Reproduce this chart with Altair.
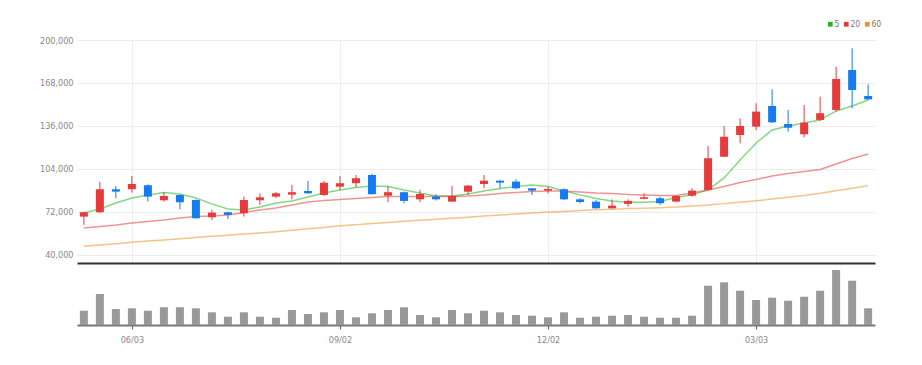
import altair as alt
import pandas as pd

# weekly candles (Mondays)
dates = pd.date_range("2024-05-13", periods=50, freq="7D").strftime("%Y-%m-%d").tolist()

opens = [68500, 71800, 88900, 88900, 91900, 80700, 84600, 80900, 68000, 71800,
         71000, 80700, 83400, 84900, 87600, 84600, 90800, 93400, 99500, 84100,
         86700, 81400, 83400, 79700, 87100, 92800, 95300, 94600, 89600, 87900,
         88900, 81400, 79700, 74700, 78000, 81700, 82200, 79700, 84100, 88400,
         113100, 129300, 135500, 150900, 137500, 129800, 140500, 147900, 177700, 158300]
highs = [72300, 94500, 91300, 98800, 92500, 86700, 85000, 81300, 73500, 72300,
         83400, 85900, 86900, 92100, 95100, 95100, 98800, 99500, 100300, 91300,
         87200, 88400, 85200, 91300, 92100, 99500, 95500, 96300, 89800, 90800,
         89600, 82200, 80900, 81400, 81400, 85900, 83400, 84600, 89600, 121100,
         136000, 141700, 152900, 163300, 147900, 151600, 157800, 180100, 193800, 167000]
lows = [62300, 71300, 82200, 86400, 79700, 79700, 74000, 67000, 66000, 66800,
        68500, 77200, 82400, 81400, 85400, 83900, 88400, 90400, 85000, 79200,
        78500, 79200, 80500, 79400, 84600, 89600, 89600, 89000, 84600, 85900,
        80900, 78500, 74500, 74500, 75900, 81500, 77200, 79100, 83400, 88000,
        113000, 123100, 133000, 138200, 131800, 127600, 139700, 146700, 149200, 155300]
closes = [71800, 88900, 87100, 92800, 83400, 83900, 79200, 67300, 71500, 69800,
          80900, 82900, 85900, 86700, 85900, 93800, 93400, 97100, 85200, 86700,
          80200, 85400, 81400, 83900, 91600, 95300, 93800, 89600, 87900, 89100,
          81400, 79400, 74700, 76700, 80200, 82900, 78500, 83900, 87900, 112000,
          128000, 136000, 146700, 138700, 134700, 138500, 145500, 171000, 162800, 155800]
volumes = [286000, 620000, 320000, 334000, 286000, 354000, 354000, 334000, 254000, 166000,
           254000, 166000, 146000, 300000, 220000, 254000, 300000, 154000, 234000, 300000,
           354000, 200000, 154000, 300000, 234000, 286000, 254000, 200000, 186000, 154000,
           254000, 146000, 166000, 186000, 200000, 166000, 146000, 146000, 186000, 786000,
           854000, 686000, 500000, 546000, 486000, 566000, 686000, 1100000, 886000, 334000]

ma5 = [71300, 74200, 78700, 82400, 84700, 86500, 85400, 82400, 78000, 74200,
       73500, 75700, 78700, 80200, 83200, 86100, 88400, 90200, 91300, 91000,
       88400, 86100, 83900, 83900, 85400, 87600, 89500, 91000, 92100, 91000,
       87600, 84700, 82000, 80200, 79200, 79200, 79800, 82800, 84700, 88400,
       97300, 110700, 123300, 133000, 136000, 138200, 140500, 147200, 150900, 155300]
ma20 = [60100, 61200, 62300, 63800, 64900, 66000, 67500, 68700, 69000, 69800,
        71600, 73500, 75000, 77200, 79400, 80600, 81300, 82000, 82800, 83500,
        83500, 83500, 83500, 83500, 83900, 84700, 85800, 86500, 87300, 87600,
        87600, 86900, 86100, 85800, 85000, 84700, 84300, 84300, 86100, 88400,
        91000, 94000, 96200, 98800, 100700, 102100, 103600, 107700, 111800, 115200]
ma60 = [46500, 47400, 48400, 49400, 50300, 51200, 52100, 53000, 53900, 54700,
        55600, 56400, 57300, 58400, 59500, 60500, 61700, 62500, 63400, 64200,
        65000, 65800, 66600, 67400, 68100, 68900, 69700, 70400, 71300, 71900,
        72400, 73000, 73600, 74100, 74500, 74800, 75200, 75600, 76400, 77200,
        78200, 79200, 80300, 81600, 82900, 84200, 85900, 87800, 89600, 91600]

ma_names = ["5", "20", "60"]
y_ticks = [40000, 72000, 104000, 136000, 168000, 200000]

df = pd.DataFrame({"date": dates, "open": opens, "high": highs, "low": lows,
                   "close": closes, "volume": volumes})
ma_df = pd.concat([
    pd.DataFrame({"date": dates, "ma": name, "value": vals})
    for name, vals in zip(ma_names, [ma5, ma20, ma60])
])

RED = "#e63b3b"
BLUE = "#157cf0"
FONT = "Liberation Sans Narrow, DejaVu Sans Condensed, Roboto Condensed, Roboto, sans-serif"

xscale = alt.Scale(type="utc", padding=0, domain=[
    alt.DateTime(year=2024, month=5, date=10, utc=True),
    alt.DateTime(year=2025, month=4, date=24, utc=True)])
tick_dates = [alt.DateTime(year=2024, month=6, date=3, utc=True),
              alt.DateTime(year=2024, month=9, date=2, utc=True),
              alt.DateTime(year=2024, month=12, date=2, utc=True),
              alt.DateTime(year=2025, month=3, date=3, utc=True)]

x_main = alt.X("date:T", scale=xscale, title=None,
               axis=alt.Axis(values=tick_dates, labels=False, ticks=False, domain=True,
                             domainColor="#333", domainWidth=2, grid=True,
                             gridColor="#ececec", title=None))
yscale = alt.Scale(domain=[34000, 200000], nice=False, zero=False)
y_axis = alt.Axis(values=y_ticks, format=",d", labelColor="#888", labelFontSize=9,
                  labelFont=FONT, labelPadding=4, ticks=False, domain=False,
                  grid=True, gridColor="#ececec", minExtent=64, maxExtent=64, title=None)

lines = alt.Chart(ma_df).mark_line(strokeWidth=1.5, opacity=0.55).encode(
    x=x_main,
    y=alt.Y("value:Q", scale=yscale, axis=y_axis, title=None),
    color=alt.Color("ma:N", scale=alt.Scale(domain=ma_names, range=["#22b422", RED, "#f0902a"]),
                    legend=alt.Legend(orient="none", legendX=749, legendY=-20,
                                      direction="horizontal", title=None, symbolType="square",
                                      symbolSize=5, symbolStrokeWidth=2.5, symbolOpacity=1,
                                      labelFontSize=8.5, labelFont=FONT, labelColor="#777",
                                      columnPadding=0, labelOffset=0, gridAlign="none")),
    detail="ma:N",
)

candle_color = alt.condition("datum.close >= datum.open", alt.value(RED), alt.value(BLUE))

wicks = alt.Chart(df).mark_rule(strokeWidth=1).encode(
    x=x_main,
    y=alt.Y("low:Q", scale=yscale, title=None),
    y2="high:Q",
    color=candle_color,
)
bodies = alt.Chart(df).mark_bar(size=8).encode(
    x=x_main,
    y=alt.Y("open:Q", scale=yscale, title=None),
    y2="close:Q",
    color=candle_color,
)

main = alt.layer(lines, wicks, bodies).properties(width=798, height=223)

vol = alt.Chart(df).mark_bar(size=8, color="#999").encode(
    x=alt.X("date:T", scale=xscale, title=None,
            axis=alt.Axis(values=tick_dates, format="%m/%d", labelColor="#888",
                          labelFontSize=9, labelFont=FONT, tickColor="#555", tickSize=4,
                          domainColor="#777", domainWidth=2, grid=False, title=None,
                          labelPadding=6)),
    y=alt.Y("volume:Q", scale=alt.Scale(domain=[0, 1200000]), title=None,
            axis=alt.Axis(labels=False, ticks=False, domain=False, grid=False, title=None,
                          minExtent=64, maxExtent=64)),
).properties(width=798, height=60)

chart = alt.vconcat(main, vol, spacing=2).properties(
    padding={"top": 12, "left": 5, "right": 5, "bottom": 5}
).configure(font=FONT).configure_view(stroke=None)

chart.save("out.html", embed_options={"renderer": "svg", "actions": False})
